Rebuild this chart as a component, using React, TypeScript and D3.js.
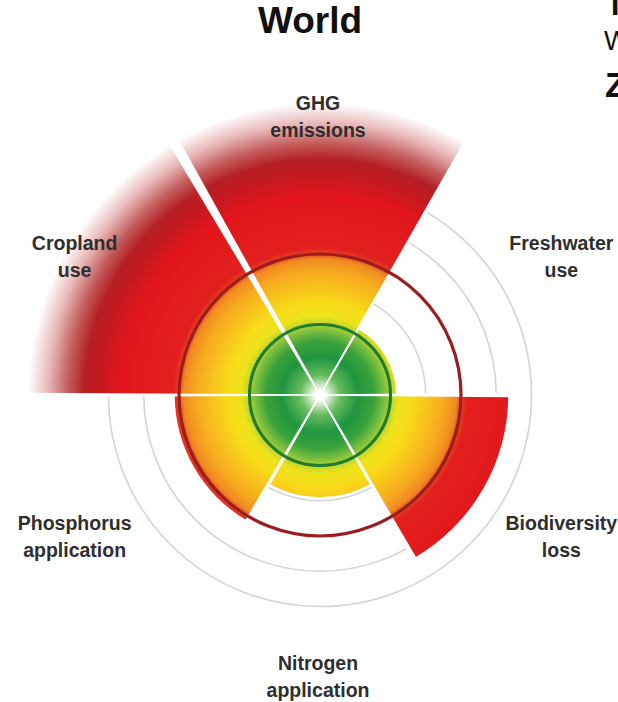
import React from "react";
import * as d3 from "d3";

// six food-system boundaries, clockwise from the top
const categories = ["GHG emissions", "Freshwater use", "Biodiversity loss", "Nitrogen application", "Phosphorus application", "Cropland use"];
const labelLines = [["GHG", "emissions"], ["Freshwater", "use"], ["Biodiversity", "loss"], ["Nitrogen", "application"], ["Phosphorus", "application"], ["Cropland", "use"]];
// pressure relative to the boundary (1 = boundary, 2 = upper end of uncertainty)
const values = [4.2, 1.08, 2.67, 1.45, 2.06, 4.2];
const gridRings = [1.5, 2.5, 3];
const boundary = 1;
const upperRange = 2;

const W = 618, H = 702;
const cx = 320, cy = 395;

export default function App() {
  const r = d3.scaleLinear().domain([0, 1]).range([0, 70.5]);
  const angle = d3.scaleBand().domain(categories).range([-Math.PI / 6, 2 * Math.PI - Math.PI / 6]);
  const maxR = r(4.2);

  const arc = d3.arc<any>()
    .innerRadius(0)
    .outerRadius((d) => r(d.value))
    .startAngle((d) => angle(d.cat)!)
    .endAngle((d) => angle(d.cat)! + angle.bandwidth());

  // gradient stops in px of radius
  const stops: [number, string][] = [
    [0, "#ffffff"], [6, "#f2f9ee"], [20, "#68bc5f"], [38, "#1f963f"], [54, "#3aa23b"],
    [66, "#86c33e"], [71, "#bcd62f"], [79, "#eee21b"], [92, "#f7dc1a"], [108, "#f8c21c"],
    [124, "#f6a81f"], [136, "#f18a21"], [142, "#e6401f"], [147, "#e2201e"], [200, "#e2161c"],
    [222, "#c21a20"], [236, "#b52025"], [252, "#c45c5c"], [272, "#e9b9b9"], [292, "#ffffff"],
  ];

  const sepPath = (a: number, len: number, w1: number) => {
    const dx = Math.sin(a), dy = -Math.cos(a);
    const px = Math.cos(a), py = Math.sin(a);
    const w0 = 0.8;
    return `M${px * w0},${py * w0}L${dx * len + px * w1},${dy * len + py * w1}L${dx * len - px * w1},${dy * len - py * w1}L${-px * w0},${-py * w0}Z`;
  };

  const font = "'Liberation Sans', Arial, sans-serif";
  const lx = 318, ly = 396.5, lrx = 281, lry = 280;

  return (
    <svg width={W} height={H} style={{ position: "absolute", left: 0, top: 0, background: "#fff" }}>
      <defs>
        <radialGradient id="zones" gradientUnits="userSpaceOnUse" cx={0} cy={0} r={maxR}>
          {stops.map(([p, c], i) => (
            <stop key={i} offset={p / maxR} stopColor={c} />
          ))}
        </radialGradient>
      </defs>

      <g transform={`translate(${cx},${cy})`}>
        {gridRings.map((g) => (
          <circle key={g} r={r(g)} fill="none" stroke="#d4d4d4" strokeWidth={1.6} />
        ))}
        {categories.map((c, i) => (
          <path key={c} d={arc({ cat: c, value: values[i] }) as string} fill="url(#zones)" />
        ))}
        {categories.map((c, i) => {
          const a = angle(c)!;
          const prev = values[(i + categories.length - 1) % categories.length];
          const len = r(Math.max(values[i], prev)) + 2;
          const wide = i === 0;
          return <path key={c} d={sepPath(a, len, wide ? 5.5 : 2.2)} fill="#fff" />;
        })}
        <circle r={r(boundary)} fill="none" stroke="#1f7d2d" strokeWidth={3.2} />
        <circle r={r(upperRange)} fill="none" stroke="#9c1d1f" strokeWidth={3.2} />
      </g>

      {categories.map((c, i) => {
        const a = angle(c)! + angle.bandwidth() / 2;
        const x = lx + Math.sin(a) * lrx;
        const y = ly - Math.cos(a) * lry;
        return (
          <text key={c} x={x} textAnchor="middle" fontFamily={font} fontWeight="bold" fontSize={19.5} fill="#2e2e2e">
            {labelLines[i].map((l, j) => (
              <tspan key={j} x={x} y={y - 6.5 + j * 27}>{l}</tspan>
            ))}
          </text>
        );
      })}

      <text x={310} y={33} textAnchor="middle" fontFamily={font} fontWeight="bold" fontSize={37} fill="#111">World</text>
      <text x={606} y={15} fontFamily={font} fontWeight="bold" fontSize={30} fill="#111">T</text>
      <text x={604} y={50} fontFamily={font} fontSize={27} fill="#111">W</text>
      <text x={605} y={97} fontFamily={font} fontWeight="bold" fontSize={35} fill="#111">Z</text>
    </svg>
  );
}
